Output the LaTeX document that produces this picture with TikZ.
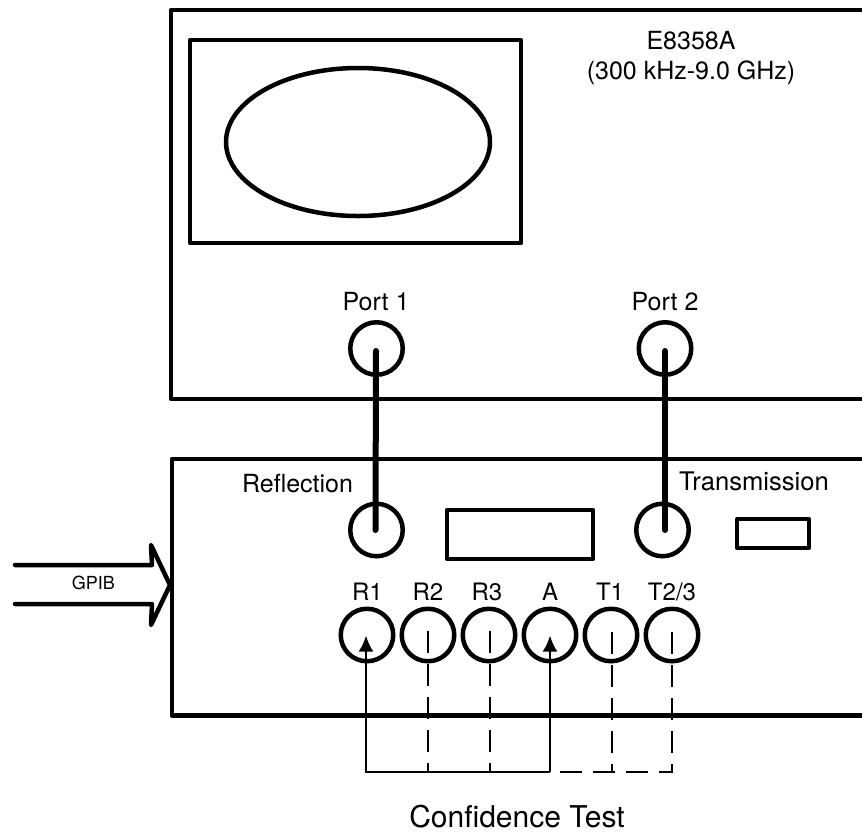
\documentclass[tikz,border=0pt]{standalone}
\usepackage{fontspec}
\setmainfont{TeX Gyre Heros}
\usetikzlibrary{arrows.meta,shapes.geometric}
\tikzset{
  panel/.style={line width=4.5pt,line join=round},
  port/.style={circle,draw,line width=4.5pt,minimum size=52.5pt,inner sep=0pt},
  cable/.style={line width=6pt,line cap=round},
  lbl/.style={font=\fontsize{25}{29}\selectfont,inner sep=0pt,anchor=base},
  small/.style={font=\fontsize{24}{28}\selectfont,inner sep=0pt,anchor=base},
  solidlink/.style={line width=2.6pt},
  dashlink/.style={line width=2.6pt,dash pattern=on 22pt off 11pt},
}
\begin{document}
\begin{tikzpicture}[x=1pt,y=-1pt]
\useasboundingbox (0,0) rectangle (862,831);
% analyser
\draw[panel] (862,10) -- (171,10) -- (171,399) -- (862,399);
\draw[panel] (190,40) rectangle (521,243);
\node[ellipse,draw,line width=4.5pt,minimum width=264pt,minimum height=148pt,inner sep=0pt] (crt) at (358,142) {};
\node[font=\fontsize{25}{30}\selectfont,inner sep=0pt,align=center] (model) at (691,58) {E8358A\\(300 kHz-9.0 GHz)};
% test set
\draw[panel] (862,459) -- (172,459) -- (172,715.5) -- (862,715.5);
\draw[panel] (447,510) rectangle (593,559);
\draw[panel,line width=4pt] (737,519) rectangle (809,548);
% ports
\node[port] (p1) at (376.5,348.5) {};
\node[port] (p2) at (665,348.5) {};
\node[port] (refl) at (376.5,530) {};
\node[port] (trans) at (662.5,530) {};
\node[lbl] (lp1) at (376,310) {Port 1};
\node[lbl] (lp2) at (665,310) {Port 2};
\node[lbl] (lrefl) at (297.5,492.5) {Reflection};
\node[lbl,font=\fontsize{25.6}{29}\selectfont] (ltrans) at (754,490) {Transmission};
\coordinate (c0) at (376,351);
\coordinate (c1) at (375.5,530);
\coordinate (c2) at (665,351);
\coordinate (c3) at (665,530);
\draw[cable] (c0) -- (c1);
\draw[cable] (c2) -- (c3);
% couplers
\foreach \n/\t/\x/\lx in {r1/R1/367/367.5,r2/R2/428/428,r3/R3/489/487,a/A/550/550,t1/T1/611/610,t23/T2\slash 3/672/672}{
  \node[port] (\n) at (\x,635) {};
  \node[small] (l\n) at (\lx,600) {\t};
}
% jumpers
\coordinate (j1) at (366,772);
\coordinate (j2) at (428,772);
\coordinate (j3) at (490,772);
\coordinate (j4) at (550,772);
\coordinate (j4b) at (560,772);
\coordinate (j5) at (612,772);
\coordinate (j6) at (673,772);
\draw[dashlink] (428,631) -- (j2);
\draw[dashlink] (490,631) -- (j3);
\draw[dashlink] (612,632) -- (j5);
\draw[dashlink] (672,632) -- (672,772);
\draw[dashlink] (j4b) -- (j6);
\draw[solidlink,-{Latex[length=16pt,width=15pt]}] (j4) -- (j1) -- (366,635.5);
\draw[solidlink,-{Latex[length=16pt,width=15pt]}] (j4) -- (550,635.5);
% GPIB
\coordinate (g1) at (15,565);
\coordinate (g2) at (15,604);
\draw[line width=4.5pt,line cap=round,line join=round] (g1) -- (152,565) -- (151,545) -- (170,585) -- (151,625) -- (152,604) -- (g2);
\node[font=\fontsize{18}{20}\selectfont,inner sep=0pt,anchor=base] (gpib) at (93.3,589.5) {GPIB};
\node[font=\fontsize{30}{32}\selectfont,inner sep=0pt,anchor=base] (conf) at (517,827) {Confidence Test};
\end{tikzpicture}
\end{document}
